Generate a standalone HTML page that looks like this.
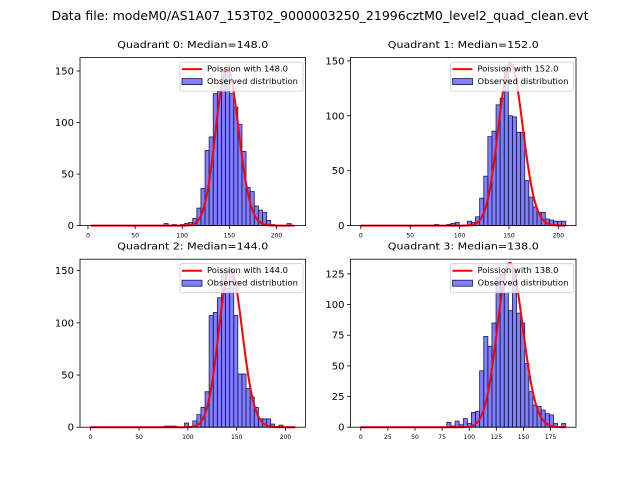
<!DOCTYPE html>
<html><head><meta charset="utf-8"><style>
body{margin:0;background:#fff}
svg{display:block;font-family:"DejaVu Sans","Liberation Sans",sans-serif}
</style></head><body>
<svg id="fig" width="640" height="480" viewBox="0 0 640 480">
<text x="320" y="20" font-size="12" text-anchor="middle" textLength="537" lengthAdjust="spacingAndGlyphs">Data file: modeM0/AS1A07_153T02_9000003250_21996cztM0_level2_quad_clean.evt</text>
</svg>
<script>
// Per-quadrant data
const medians = [148.0, 152.0, 144.0, 138.0];
const binStarts = [2.4, 0, 0, 0];
const binWidths = [4.35, 4.15, 4.2, 3.78];
const countsQ0 = [0,0,0,0,0,0,0,0,0,0,0,0,0,0,0,0,0,0,2,0,1,0,1,2,3,7,17,36,73,86,128,130,152,150,128,115,98,72,37,33,19,15,13,5,1,0,0,0,2,0];
const countsQ1 = [0,0,0,0,0,0,0,0,0,0,0,0,0,0,0,0,0,0,1,0,0,1,2,3,0,0,4,3,8,25,45,81,86,110,116,145,100,99,85,85,41,26,17,12,12,6,5,4,4,4];
const countsQ2 = [0,0,0,0,0,0,0,0,0,0,0,0,0,0,0,0,0,0,1,1,1,0,0,4,0,6,12,19,34,107,110,124,150,133,150,107,51,51,37,29,19,8,8,8,3,0,2,0,0,0];
const countsQ3 = [0,0,0,0,0,0,0,0,0,0,0,0,0,0,0,0,0,0,0,0,0,4,1,5,2,7,3,12,13,46,74,66,85,122,125,110,95,128,93,85,52,29,18,17,14,11,10,3,0,3];
const yMaxes = [163, 153, 161, 137];
const yTicksQ0 = [0,50,100,150];
const yTicksQ1 = [0,50,100,150];
const yTicksQ2 = [0,50,100,150];
const yTicksQ3 = [0,25,50,75,100,125];
const xTicksQ0 = [0,50,100,150,200];
const xTicksQ1 = [0,50,100,150,200];
const xTicksQ2 = [0,50,100,150,200];
const xTicksQ3 = [0,25,50,75,100,125,150,175];
const curvePeaks = [153, 148, 152, 134];

const NS = "http://www.w3.org/2000/svg";
const svg = document.getElementById('fig');
function mk(tag, attrs, parent){const e=document.createElementNS(NS,tag);for(const k in attrs)e.setAttribute(k,attrs[k]);(parent||svg).appendChild(e);return e;}
function logPmf(k,l){let s=0;for(let i=2;i<=k;i++)s+=Math.log(i);return k*Math.log(l)-l-s;}

const boxes = [[80,57.6],[350.5,57.6],[80,259.2],[350.5,259.2]];
const W = 225.5, H = 168;
const allCounts=[countsQ0,countsQ1,countsQ2,countsQ3];
const allY=[yTicksQ0,yTicksQ1,yTicksQ2,yTicksQ3];
const allX=[xTicksQ0,xTicksQ1,xTicksQ2,xTicksQ3];

for(let q=0;q<4;q++){
  const [L,T]=boxes[q];
  const counts=allCounts[q], bw=binWidths[q], b0=binStarts[q];
  const dmin=b0, dmax=b0+bw*counts.length, pad=(dmax-dmin)*0.05;
  const x0=dmin-pad, x1=dmax+pad;
  const X=v=>L+(v-x0)/(x1-x0)*W;
  const Y=v=>T+H-v/yMaxes[q]*H;
  const g=mk('g',{});
  
  
  const t=mk('text',{x:L+W/2,y:T-9.5,'font-size':'9.3','text-anchor':'middle',textLength:'151',lengthAdjust:'spacingAndGlyphs'},g);
  t.textContent='Quadrant '+q+': Median='+medians[q].toFixed(1);
  
  
  counts.forEach((c,i)=>{
    if(c<=0)return;
    const r=mk('rect',{x:X(b0+i*bw),y:Y(c),width:X(b0+(i+1)*bw)-X(b0+i*bw),height:Y(0)-Y(c),fill:'rgba(0,0,255,0.5)',stroke:'#1a1a4d','stroke-width':'0.8'},g);
    
    
  });
  const lam=medians[q], mode=Math.floor(lam);
  const scale=curvePeaks[q]/Math.exp(logPmf(mode,lam));
  let d='';
  for(let k=Math.ceil(dmin);k<=Math.floor(dmax);k++){
    const v=scale*Math.exp(logPmf(k,lam));
    d+=(d?'L':'M')+X(k).toFixed(2)+','+Y(v).toFixed(2);
  }
  const p=mk('path',{d:d,fill:'none',stroke:'#ff0000','stroke-width':'2'},g);
  
  
  const fr=mk('rect',{x:L,y:T,width:W,height:H,fill:'none',stroke:'#000','stroke-width':'0.8'},g);
  
  
  allY[q].forEach(v=>{
    mk('line',{x1:L-3.5,x2:L,y1:Y(v),y2:Y(v),stroke:'#000','stroke-width':'0.8'},g);
    const tl=mk('text',{x:L-6,y:Y(v)+3.5,'font-size':'10','text-anchor':'end'},g);
    tl.textContent=v;
    
    
  });
  allX[q].forEach(v=>{
    mk('line',{x1:X(v),x2:X(v),y1:T+H,y2:T+H+3.5,stroke:'#000','stroke-width':'0.8'},g);
    const tl=mk('text',{x:X(v),y:T+H+12,'font-size':'6','text-anchor':'middle'},g);
    tl.textContent=v;
    
    
  });
  const lg=mk('g',{},g);
  
  
  const lx=L+W-125.5, ly=T+4.5;
  mk('rect',{x:lx,y:ly,width:123,height:29,fill:'rgba(255,255,255,0.8)',stroke:'#ccc','stroke-width':'0.8',rx:2},lg);
  mk('line',{x1:lx+2,x2:lx+22,y1:ly+7,y2:ly+7,stroke:'#ff0000','stroke-width':'2'},lg);
  const t1=mk('text',{x:lx+27,y:ly+9.5,'font-size':'7.6',textLength:'81',lengthAdjust:'spacingAndGlyphs'},lg);
  t1.textContent='Poission with '+medians[q].toFixed(1);
  
  
  mk('rect',{x:lx+2,y:ly+16.5,width:20,height:6,fill:'rgba(0,0,255,0.5)',stroke:'#1a1a4d','stroke-width':'0.8'},lg);
  const t2=mk('text',{x:lx+27,y:ly+22,'font-size':'7.6',textLength:'91',lengthAdjust:'spacingAndGlyphs'},lg);
  t2.textContent='Observed distribution';
  
  
}
</script>
</body></html>
